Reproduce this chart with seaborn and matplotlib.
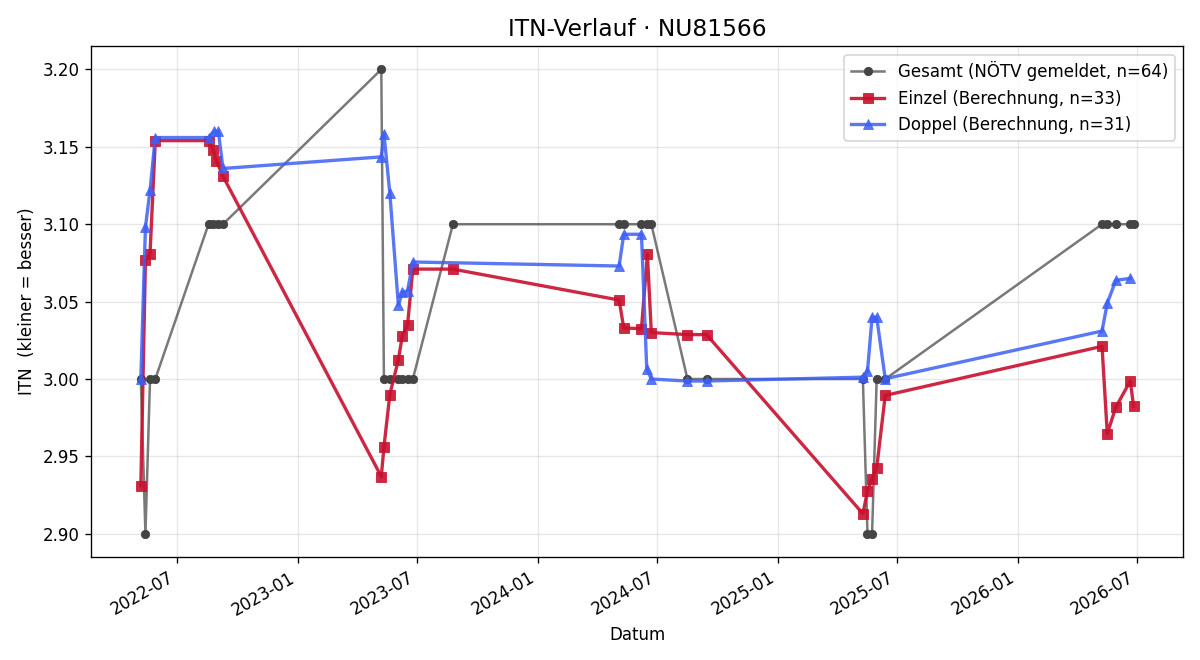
import matplotlib
matplotlib.use("Agg")
import matplotlib.pyplot as plt
import matplotlib.dates as mdates
import seaborn as sns
import pandas as pd

gesamt_dates = ["2022-05-07", "2022-05-14", "2022-05-21", "2022-05-29",
                "2022-08-18", "2022-08-25", "2022-09-02", "2022-09-09",
                "2023-05-08", "2023-05-12", "2023-05-21", "2023-06-03",
                "2023-06-09", "2023-06-17", "2023-06-25", "2023-08-25",
                "2024-05-04", "2024-05-11", "2024-06-07", "2024-06-15",
                "2024-06-22", "2024-08-16", "2024-09-14",
                "2025-05-10", "2025-05-17", "2025-05-24", "2025-05-31", "2025-06-13",
                "2026-05-09", "2026-05-17", "2026-05-30", "2026-06-21", "2026-06-26"]
gesamt_vals = [3.00, 2.90, 3.00, 3.00,
               3.10, 3.10, 3.10, 3.10,
               3.20, 3.00, 3.00, 3.00,
               3.00, 3.00, 3.00, 3.10,
               3.10, 3.10, 3.10, 3.10,
               3.10, 3.00, 3.00,
               3.00, 2.90, 2.90, 3.00, 3.00,
               3.10, 3.10, 3.10, 3.10, 3.10]

einzel_dates = ["2022-05-07", "2022-05-14", "2022-05-21", "2022-05-29",
                "2022-08-18", "2022-08-25", "2022-08-30", "2022-09-09",
                "2023-05-08", "2023-05-12", "2023-05-21", "2023-06-03",
                "2023-06-09", "2023-06-17", "2023-06-25", "2023-08-25",
                "2024-05-04", "2024-05-11", "2024-06-07", "2024-06-16",
                "2024-06-22", "2024-08-16", "2024-09-14",
                "2025-05-10", "2025-05-17", "2025-05-24", "2025-05-31", "2025-06-13",
                "2026-05-09", "2026-05-17", "2026-05-30", "2026-06-21", "2026-06-26"]
einzel_vals = [2.931, 3.077, 3.081, 3.154,
               3.154, 3.148, 3.141, 3.131,
               2.937, 2.956, 2.990, 3.0125,
               3.028, 3.035, 3.071, 3.071,
               3.051, 3.033, 3.0325, 3.0806,
               3.030, 3.0287, 3.0287,
               2.913, 2.9276, 2.9356, 2.9424, 2.9894,
               3.0211, 2.9647, 2.9818, 2.9987, 2.9825]

doppel_dates = ["2022-05-07", "2022-05-14", "2022-05-21", "2022-05-29",
                "2022-08-18", "2022-08-26", "2022-09-02", "2022-09-09",
                "2023-05-08", "2023-05-12", "2023-05-21", "2023-06-03",
                "2023-06-09", "2023-06-17", "2023-06-25",
                "2024-05-04", "2024-05-11", "2024-06-07", "2024-06-15",
                "2024-06-22", "2024-08-16", "2024-09-14",
                "2025-05-10", "2025-05-17", "2025-05-24", "2025-05-31", "2025-06-13",
                "2026-05-09", "2026-05-17", "2026-05-30", "2026-06-21"]
doppel_vals = [3.000, 3.098, 3.122, 3.156,
               3.156, 3.160, 3.160, 3.136,
               3.1435, 3.1586, 3.120, 3.0476,
               3.056, 3.057, 3.0756,
               3.073, 3.0935, 3.0935, 3.0067,
               3.000, 2.9987, 2.9987,
               3.0012, 3.005, 3.040, 3.040, 3.0002,
               3.031, 3.049, 3.0638, 3.065]

labels = ["Gesamt (NÖTV gemeldet, n=64)",
          "Einzel (Berechnung, n=33)",
          "Doppel (Berechnung, n=31)"]

df_g = pd.DataFrame({"Datum": pd.to_datetime(gesamt_dates), "ITN": gesamt_vals})
df_e = pd.DataFrame({"Datum": pd.to_datetime(einzel_dates), "ITN": einzel_vals})
df_d = pd.DataFrame({"Datum": pd.to_datetime(doppel_dates), "ITN": doppel_vals})

fig, ax = plt.subplots(figsize=(10, 5.5), dpi=120)

sns.lineplot(data=df_g, x="Datum", y="ITN", ax=ax, label=labels[0],
             color=(0.27, 0.27, 0.27, 0.72), marker="o", markersize=5,
             markerfacecolor="#444444", markeredgecolor="#444444",
             markeredgewidth=0.5, linewidth=1.5, errorbar=None)
sns.lineplot(data=df_e, x="Datum", y="ITN", ax=ax, label=labels[1],
             color="#C8102E", alpha=0.9, marker="s", markersize=6,
             markeredgecolor="#C8102E", markeredgewidth=0.5,
             linewidth=2.0, errorbar=None)
sns.lineplot(data=df_d, x="Datum", y="ITN", ax=ax, label=labels[2],
             color="#3D5FF5", alpha=0.85, marker="^", markersize=6,
             markeredgecolor="#3D5FF5", markeredgewidth=0.5,
             linewidth=2.0, errorbar=None)

ax.set_title("ITN-Verlauf · NU81566", fontsize=14)
ax.set_xlabel("Datum")
ax.set_ylabel("ITN  (kleiner = besser)")
ax.grid(True, alpha=0.3)
ax.xaxis.set_major_locator(mdates.MonthLocator(bymonth=[1, 7]))
ax.xaxis.set_major_formatter(mdates.DateFormatter("%Y-%m"))
ax.legend(loc="upper right")
fig.autofmt_xdate()
fig.subplots_adjust(left=0.076, right=0.986, top=0.930, bottom=0.156)
fig.savefig("out.png", dpi=120)
